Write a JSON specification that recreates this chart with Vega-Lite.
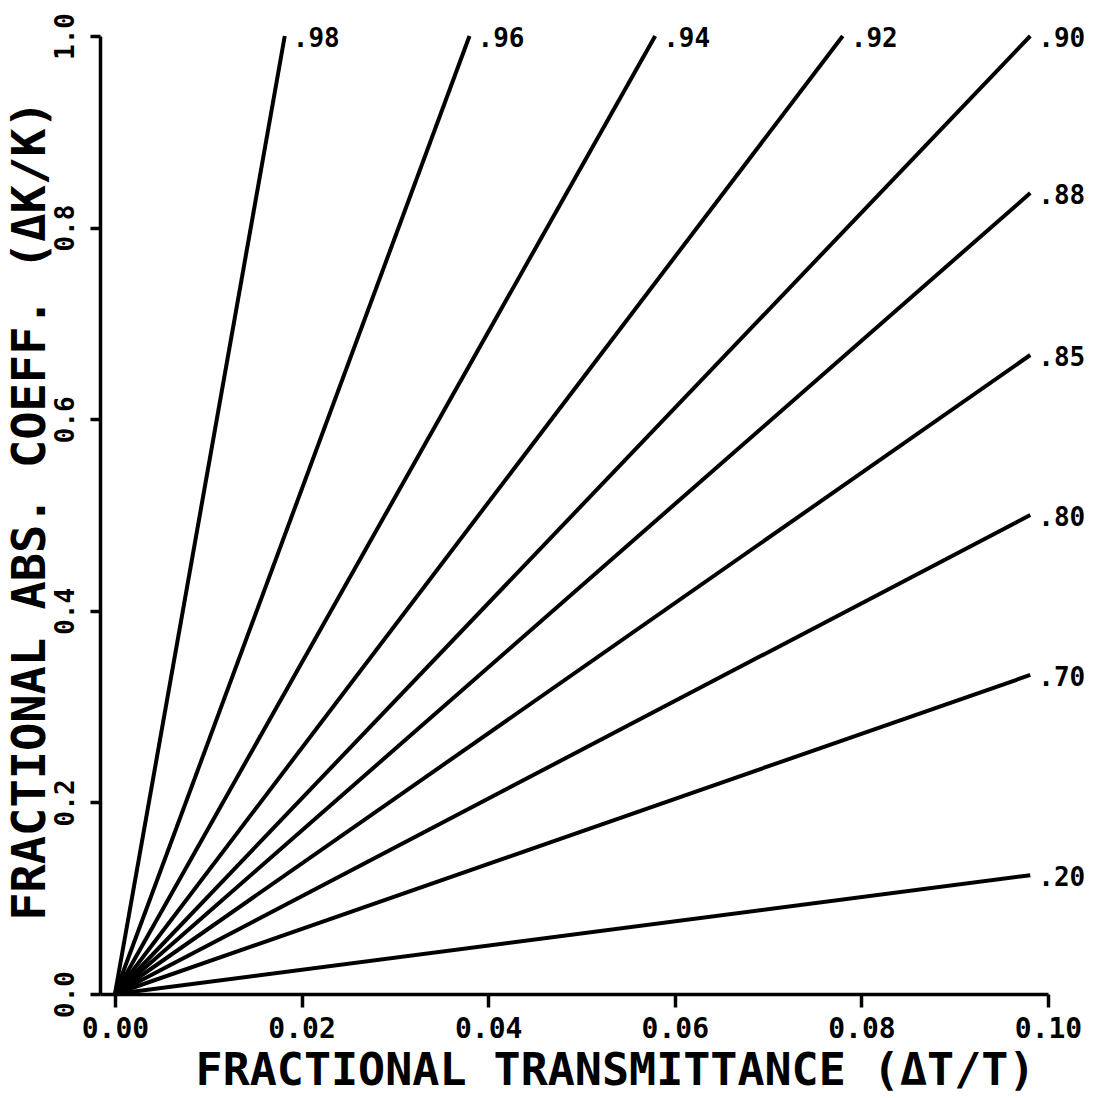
{
  "$schema": "https://vega.github.io/schema/vega-lite/v6.json",
  "width": 948,
  "height": 958,
  "autosize": "none",
  "padding": {"left": 100, "top": 36, "right": 53, "bottom": 104},
  "background": "white",
  "config": {"view": {"stroke": null}},
  "data": {
    "values": [
      {"T": ".98", "dT": 0, "dK": 0}, {"T": ".98", "dT": 0.0182, "dK": 1.0},
      {"T": ".96", "dT": 0, "dK": 0}, {"T": ".96", "dT": 0.0380, "dK": 1.0},
      {"T": ".94", "dT": 0, "dK": 0}, {"T": ".94", "dT": 0.0579, "dK": 1.0},
      {"T": ".92", "dT": 0, "dK": 0}, {"T": ".92", "dT": 0.0780, "dK": 1.0},
      {"T": ".90", "dT": 0, "dK": 0}, {"T": ".90", "dT": 0.0981, "dK": 1.0},
      {"T": ".88", "dT": 0, "dK": 0}, {"T": ".88", "dT": 0.0981, "dK": 0.836},
      {"T": ".85", "dT": 0, "dK": 0}, {"T": ".85", "dT": 0.0981, "dK": 0.667},
      {"T": ".80", "dT": 0, "dK": 0}, {"T": ".80", "dT": 0.0981, "dK": 0.500},
      {"T": ".70", "dT": 0, "dK": 0}, {"T": ".70", "dT": 0.0981, "dK": 0.333},
      {"T": ".20", "dT": 0, "dK": 0}, {"T": ".20", "dT": 0.0981, "dK": 0.124}
    ]
  },
  "layer": [
    {
      "mark": {"type": "line", "color": "black", "strokeWidth": 4},
      "encoding": {
        "x": {
          "field": "dT", "type": "quantitative",
          "scale": {"domain": [-0.0016, 0.1], "nice": false, "zero": false},
          "axis": {
            "values": [0, 0.02, 0.04, 0.06, 0.08, 0.1],
            "format": ".2f",
            "title": "FRACTIONAL TRANSMITTANCE (ΔT/T)",
            "grid": false,
            "domainColor": "black", "domainWidth": 3.5,
            "tickColor": "black", "tickWidth": 3.5, "tickSize": 13,
            "labelFont": "DejaVu Sans Mono", "labelFontWeight": "bold", "labelFontSize": 28,
            "labelColor": "black", "labelPadding": 8, "labelFlush": false, "labelOverlap": false,
            "titleFont": "DejaVu Sans Mono", "titleFontSize": 45, "titleFontWeight": "bold",
            "titleColor": "black", "titleX": 515, "titleY": 76,
            "titleAlign": "center", "titleBaseline": "middle"
          }
        },
        "y": {
          "field": "dK", "type": "quantitative",
          "scale": {"domain": [0, 1], "nice": false},
          "axis": {
            "values": [0, 0.2, 0.4, 0.6, 0.8, 1],
            "format": ".1f",
            "title": "FRACTIONAL ABS. COEFF. (ΔK/K)",
            "grid": false,
            "domainColor": "black", "domainWidth": 3.5,
            "tickColor": "black", "tickWidth": 3.5, "tickSize": 10,
            "labelAngle": -90, "labelAlign": "center", "labelBaseline": "middle",
            "labelPadding": 25, "labelFont": "DejaVu Sans Mono", "labelFontSize": 26,
            "labelFontWeight": "bold",
            "labelColor": "black", "labelFlush": false, "labelOverlap": false,
            "titleFont": "DejaVu Sans Mono", "titleFontSize": 47, "titleFontWeight": "bold",
            "titleColor": "black", "titleX": -70, "titleY": 474, "titleAngle": -90,
            "titleAlign": "center", "titleBaseline": "middle"
          }
        },
        "detail": {"field": "T", "type": "nominal"}
      }
    },
    {
      "transform": [{"filter": "datum.dK > 0"}],
      "mark": {
        "type": "text", "align": "left", "baseline": "middle", "dx": 8, "dy": 3,
        "font": "DejaVu Sans Mono", "fontWeight": "bold", "fontSize": 26, "color": "black"
      },
      "encoding": {
        "x": {"field": "dT", "type": "quantitative"},
        "y": {"field": "dK", "type": "quantitative"},
        "text": {"field": "T", "type": "nominal"}
      }
    }
  ]
}
